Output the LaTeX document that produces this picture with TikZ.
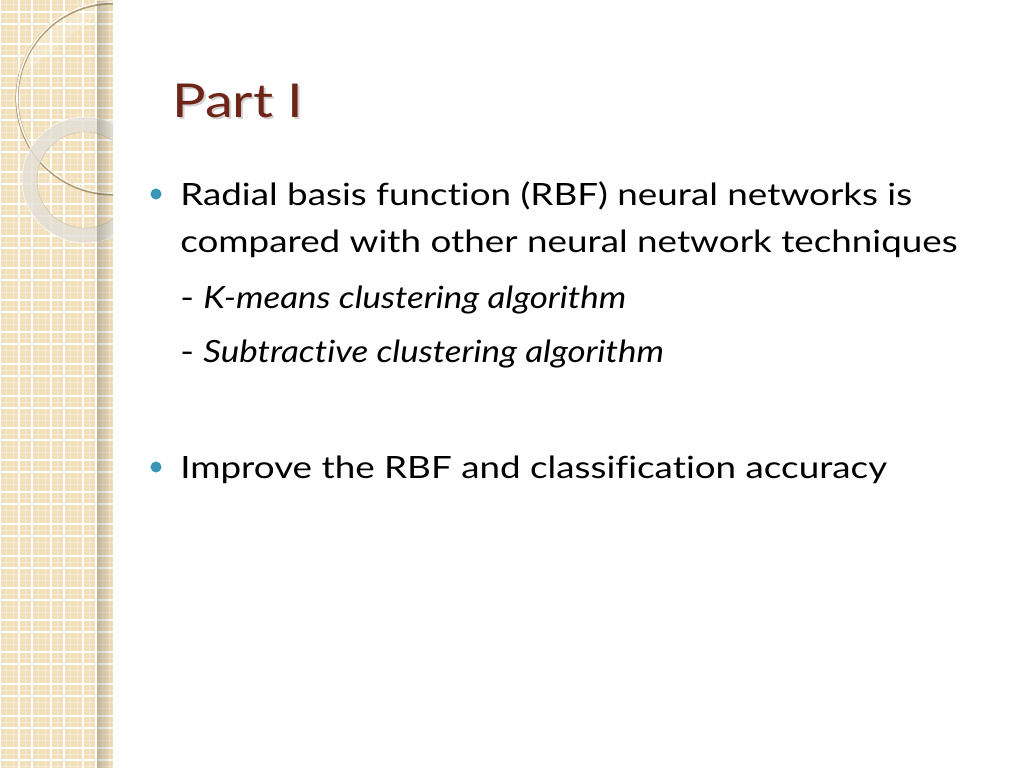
\documentclass[tikz,border=0pt]{standalone}
\usepackage{fontspec}
\setmainfont{Lato}[FakeStretch=1.2, Ligatures=NoCommon]
\newfontfamily\itfam{Lato}[FakeStretch=1.14, Ligatures=NoCommon]
\usetikzlibrary{fadings}
\definecolor{strip}{HTML}{F2E0BA}
\definecolor{titlered}{HTML}{6E2417}
\definecolor{bulletc}{HTML}{3A96B4}
\definecolor{ringc}{HTML}{E3DFD7}
\definecolor{circdark}{HTML}{B09A74}
\definecolor{circlight}{HTML}{FDF8EC}
\tikzset{
  body/.style={anchor=base west, inner sep=0pt, font=\fontsize{23}{28}\selectfont, text=black},
  titlefont/.style={anchor=base west, inner sep=0pt, font=\fontsize{35}{40}\selectfont},
  dot/.style={circle, fill=bulletc, inner sep=0pt, minimum size=8.3pt},
  gridline/.style={white, line width=1.1pt},
  fineline/.style={white, opacity=0.35, line width=0.4pt}
}
\begin{document}
\begin{tikzpicture}[x=0.75pt,y=-0.75pt]
\useasboundingbox (0,0) rectangle (1024,768);
\fill[white] (0,0) rectangle (1024,768);
\fill[strip] (0,0) rectangle (113,768);
\begin{scope}
\clip (0,0) rectangle (113,768);
% fine lines
\foreach \k in {0,...,3} {
  \foreach \d in {6,13,25} { \draw[fineline] ({32*\k+\d},0) -- ({32*\k+\d},768); }
}
\foreach \k in {0,...,24} {
  \foreach \d in {4,18,30} { \draw[fineline] (0,{32*\k+\d}) -- (113,{32*\k+\d}); }
}
% main grid
\foreach \k in {0,...,3} {
  \draw[gridline] ({32*\k},0) -- ({32*\k},768);
  \draw[gridline] ({32*\k+19},0) -- ({32*\k+19},768);
}
\foreach \k in {0,...,24} {
  \draw[gridline] (0,{32*\k+12}) -- (113,{32*\k+12});
  \draw[gridline] (0,{32*\k+24}) -- (113,{32*\k+24});
}
% lighter segment in the big circle
\begin{scope}
\clip (112.5,97.5) circle (95.5);
\fill[white, opacity=0.22] (0,0) -- (0,92) -- (113,2) -- (113,0) -- cycle;
\end{scope}
% big thin circle
\draw[circdark, line width=2.4pt] (112.5,98.5) circle (95.5);
\draw[circlight, line width=1.3pt] (112.5,97.5) circle (95.5);
% thick ring
\fill[ringc, opacity=0.8, even odd rule] (85,180) circle (63) (85,180) circle (48);
\draw[white, opacity=0.7, line width=0.6pt] (85,180) circle (63);
\draw[circdark, opacity=0.35, line width=0.5pt] (85,180) circle (48);
% shadow at the right edge
\fill[black, opacity=0.2, path fading=east] (97,0) rectangle (113,768);
\end{scope}
% title
\node[titlefont, text=gray, opacity=0.35] (titleshadow) at (174,119) {Part I};
\node[titlefont, text=titlered] (title) at (172,117) {Part I};
% bullets and text
\node[dot] (b1) at (156,194) {};
\node[body] (l1) at (180,205) {Radial basis function (RBF) neural networks is};
\node[body] (l2) at (180,252) {compared with other neural network techniques};
\node[body] (l3) at (180,308) {- {\itfam\itshape K-means clustering algorithm}};
\node[body] (l4) at (180,362) {- {\itfam\itshape Subtractive clustering algorithm}};
\node[dot] (b2) at (156,467) {};
\node[body] (l5) at (180,478) {Improve the RBF and classification accuracy};
\end{tikzpicture}
\end{document}
